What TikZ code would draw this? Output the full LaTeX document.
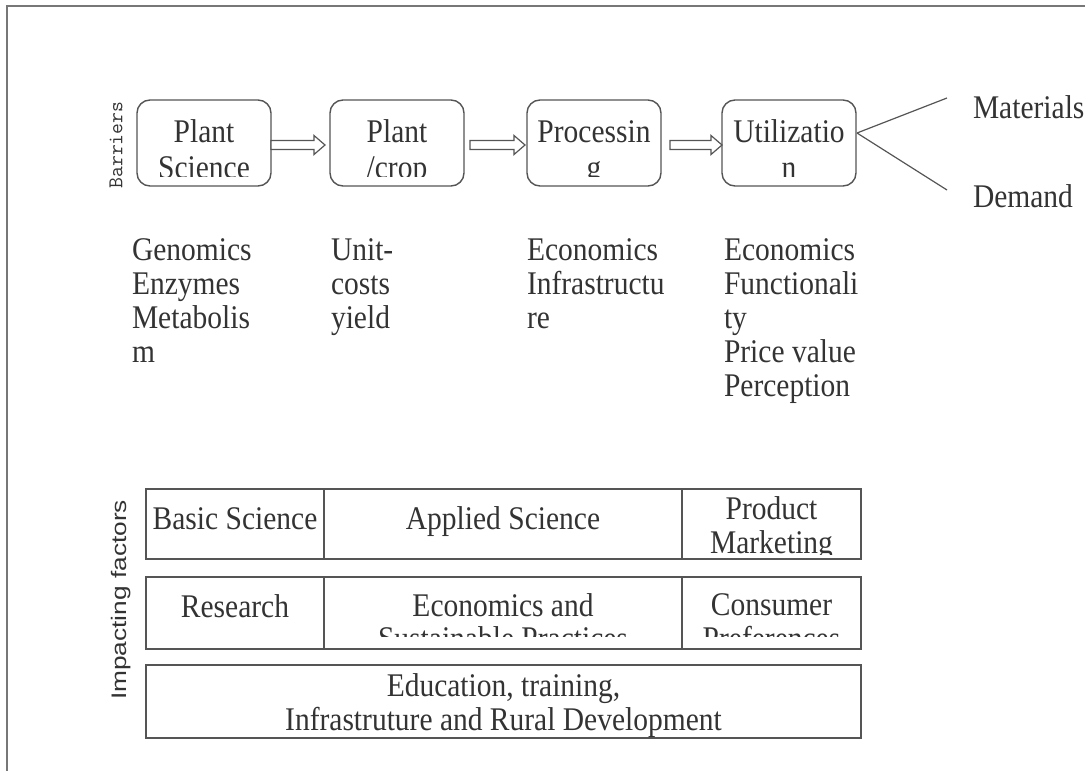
\documentclass[tikz,border=0pt]{standalone}
\usepackage{fontspec}
\setmainfont{Liberation Serif}
\newfontfamily\labelsans{Liberation Sans}
\usetikzlibrary{calc}
\definecolor{ink}{HTML}{333333}
\definecolor{rule}{HTML}{555555}
\begin{document}
\begin{tikzpicture}[x=1pt,y=-1pt,
  every node/.style={text=ink, font=\fontsize{29.5}{34}\selectfont, inner sep=0pt, outer sep=0pt},
  txt/.style={yscale=1.12},
  stage/.style={draw=rule, line width=1.4pt, rounded corners=13pt, minimum width=134pt, minimum height=86pt},
  cell/.style={draw=rule, line width=2.4pt, anchor=north west},
  flow/.style={draw=rule, line width=1.2pt, fill=white, line join=miter},
  branch/.style={draw=rule, line width=1.2pt},
  frame/.style={draw=rule!80, line width=1.6pt},
  side/.style={rotate=90}]
\useasboundingbox (0,0) rectangle (1085,771);
\draw[frame] (7,771) -- (7,6) -- (1085,6);

% ---- value chain stages ----
\node[stage] (b1) at (204,143) {};
\node[stage] (b2) at (397,143) {};
\node[stage] (b3) at (594,143) {};
\node[stage] (b4) at (789,143) {};

\foreach \b/\la/\lb in {b1/Plant/Science, b2/Plant/{/crop}, b3/Processin/g, b4/Utilizatio/n}{
  \begin{scope}
    \clip (\b.north west) rectangle ($(\b.south east)+(0,-9.5)$);
    \node[txt, anchor=base] (\b-l1) at ($(\b.north)+(0,42)$) {\la};
    \node[txt, anchor=base] (\b-l2) at ($(\b.north)+(0,78)$) {\lb};
  \end{scope}
}

% hollow block arrows between stages
\coordinate (a1s) at ($(b1.east)+(0,2)$);  \coordinate (a1e) at ($(b2.west)+(-5,2)$);
\coordinate (a2s) at ($(b2.east)+(6,2)$);  \coordinate (a2e) at ($(b3.west)+(-2,2)$);
\coordinate (a3s) at ($(b3.east)+(9,2)$);  \coordinate (a3e) at ($(b4.west)+(0,2)$);
\foreach \s/\e in {a1s/a1e, a2s/a2e, a3s/a3e}{
  \draw[flow] ($(\s)+(0,-4.5)$) -- ($(\e)+(-11,-4.5)$) -- ($(\e)+(-11,-9.5)$) -- (\e)
    -- ($(\e)+(-11,9.5)$) -- ($(\e)+(-11,4.5)$) -- ($(\s)+(0,4.5)$) -- cycle;
}

% outcome branches
\coordinate (fork) at ($(b4.east)+(1,-10)$);
\coordinate (matEnd) at (947,98);
\coordinate (demEnd) at (947,190);
\draw[branch] (fork) -- (matEnd);
\draw[branch] (fork) -- (demEnd);
\node[txt, anchor=base west] (mat) at (973,118) {Materials};
\node[txt, anchor=base west] (dem) at (973,207) {Demand};

\node[side, font=\ttfamily\fontsize{21}{21}\selectfont] (barriers) at (116,145) {Barriers};

% ---- barrier lists ----
\foreach \t [count=\i] in {Genomics, Enzymes, Metabolis, m}
  \node[txt, anchor=base west] (g\i) at (132,{226+34*\i}) {\t};
\foreach \t [count=\i] in {Unit-, costs, yield}
  \node[txt, anchor=base west] (u\i) at (331,{226+34*\i}) {\t};
\foreach \t [count=\i] in {Economics, Infrastructu, re}
  \node[txt, anchor=base west] (p\i) at (527,{226+34*\i}) {\t};
\foreach \t [count=\i] in {Economics, Functionali, ty, Price value, Perception}
  \node[txt, anchor=base west] (v\i) at (724,{226+34*\i}) {\t};

% ---- impacting factors ----
\node[cell, minimum width=178pt, minimum height=70pt] (r1a) at (146,489) {};
\node[cell, minimum width=358pt, minimum height=70pt] (r1b) at (324,489) {};
\node[cell, minimum width=179pt, minimum height=70pt] (r1c) at (682,489) {};
\node[cell, minimum width=178pt, minimum height=72pt] (r2a) at (146,577) {};
\node[cell, minimum width=358pt, minimum height=72pt] (r2b) at (324,577) {};
\node[cell, minimum width=179pt, minimum height=72pt] (r2c) at (682,577) {};
\node[cell, minimum width=715pt, minimum height=73pt] (r3) at (146,665) {};

\node[txt, anchor=base] (t1a) at ($(r1a.north)+(0,40)$) {Basic Science};
\node[txt, anchor=base] (t1b) at ($(r1b.north)+(0,40)$) {Applied Science};
\begin{scope}
  \clip (r1c.north west) rectangle ($(r1c.south east)+(0,-5)$);
  \node[txt, anchor=base] (t1c1) at ($(r1c.north)+(0,30)$) {Product};
  \node[txt, anchor=base] (t1c2) at ($(r1c.north)+(0,64)$) {Marketing};
\end{scope}

\node[txt, anchor=base] (t2a) at ($(r2a.north)+(0,40)$) {Research};
\begin{scope}
  \clip (r2b.north west) rectangle ($(r2b.south east)+(0,-13)$);
  \node[txt, anchor=base] (t2b1) at ($(r2b.north)+(0,39)$) {Economics and};
  \node[txt, anchor=base] (t2b2) at ($(r2b.north)+(0,72)$) {Sustainable Practices};
\end{scope}
\begin{scope}
  \clip (r2c.north west) rectangle ($(r2c.south east)+(0,-13)$);
  \node[txt, anchor=base] (t2c1) at ($(r2c.north)+(0,38)$) {Consumer};
  \node[txt, anchor=base] (t2c2) at ($(r2c.north)+(0,72)$) {Preferences};
\end{scope}

\node[txt, anchor=base] (t3a) at ($(r3.north)+(0,31)$) {Education, training,};
\node[txt, anchor=base] (t3b) at ($(r3.north)+(0,65)$) {Infrastruture and Rural Development};

\node[side, xscale=1.25, font=\labelsans\fontsize{21}{21}\selectfont] (impact) at (121,600) {Impacting factors};
\end{tikzpicture}
\end{document}
